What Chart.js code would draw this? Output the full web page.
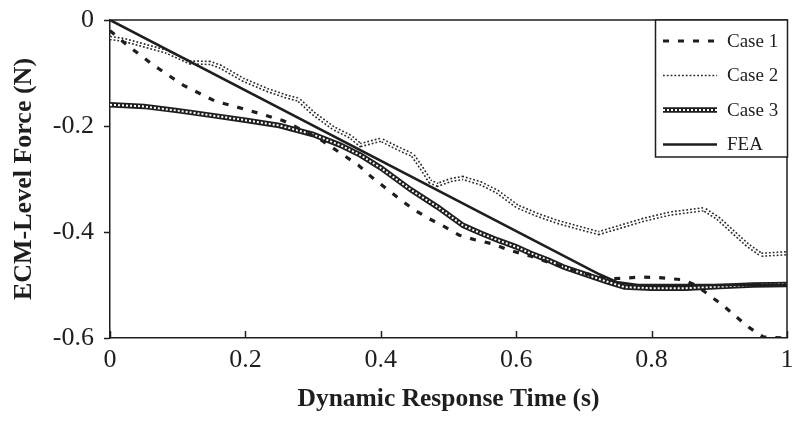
<!DOCTYPE html>
<html>
<head>
<meta charset="utf-8">
<script src="https://cdn.jsdelivr.net/npm/chart.js@4.4.1/dist/chart.umd.min.js"></script>
<style>
  html, body { margin: 0; padding: 0; background: #fff; }
  #wrap { width: 800px; height: 424px; }
</style>
</head>
<body>
<div id="wrap"><canvas id="forceChart" width="800" height="424"></canvas></div>
<script>
  // ── DATA ─────────────────────────────────────────────────
  const seriesNames = ['Case 1', 'Case 2', 'Case 3', 'FEA'];

  const case1 = [
    [0, -0.02], [0.025, -0.047], [0.064, -0.085], [0.108, -0.123], [0.155, -0.153],
    [0.204, -0.17], [0.256, -0.19], [0.278, -0.204], [0.31, -0.225], [0.345, -0.255],
    [0.367, -0.274], [0.386, -0.296], [0.407, -0.317], [0.426, -0.336], [0.448, -0.357],
    [0.47, -0.374], [0.494, -0.39], [0.516, -0.406], [0.54, -0.415], [0.567, -0.423],
    [0.589, -0.434], [0.62, -0.445], [0.65, -0.458], [0.7, -0.478], [0.74, -0.488],
    [0.76, -0.487], [0.785, -0.485], [0.81, -0.486], [0.845, -0.49], [0.865, -0.5],
    [0.885, -0.519], [0.905, -0.538], [0.925, -0.56], [0.945, -0.581], [0.965, -0.598],
    [1, -0.6]
  ];

  const case2 = [
    [0, -0.034], [0.022, -0.038], [0.084, -0.06], [0.118, -0.08], [0.148, -0.081],
    [0.163, -0.088], [0.197, -0.113], [0.232, -0.132], [0.262, -0.145], [0.278, -0.15],
    [0.3, -0.176], [0.33, -0.204], [0.355, -0.22], [0.37, -0.236], [0.4, -0.226],
    [0.425, -0.242], [0.447, -0.255], [0.459, -0.277], [0.473, -0.305], [0.484, -0.311],
    [0.503, -0.302], [0.521, -0.298], [0.547, -0.308], [0.572, -0.324], [0.602, -0.352],
    [0.632, -0.368], [0.661, -0.381], [0.695, -0.393], [0.722, -0.402], [0.754, -0.39],
    [0.788, -0.377], [0.828, -0.365], [0.877, -0.357], [0.898, -0.374], [0.922, -0.402],
    [0.942, -0.425], [0.962, -0.443], [1, -0.44]
  ];

  const case3 = [
    [0, -0.16], [0.05, -0.163], [0.1, -0.171], [0.15, -0.18], [0.2, -0.189],
    [0.25, -0.199], [0.3, -0.216], [0.34, -0.236], [0.37, -0.255], [0.4, -0.279],
    [0.444, -0.32], [0.484, -0.353], [0.522, -0.388], [0.547, -0.402], [0.572, -0.415],
    [0.6, -0.428], [0.621, -0.44], [0.647, -0.453], [0.67, -0.466], [0.7, -0.479],
    [0.735, -0.494], [0.76, -0.504], [0.8, -0.506], [0.85, -0.506], [0.9, -0.503],
    [0.95, -0.5], [1, -0.499]
  ];

  const fea = [
    [0, 0], [0.72, -0.478], [0.75, -0.495], [0.78, -0.5], [1, -0.5]
  ];

  const xTicks = [0, 0.2, 0.4, 0.6, 0.8, 1];
  const yTicks = [-0.6, -0.4, -0.2, 0];

  const xTitle = 'Dynamic Response Time (s)';
  const yTitle = 'ECM-Level Force (N)';

  // ── HELPERS ──────────────────────────────────────────────
  const INK = '#1e1e1e';
  const SERIF = '"Liberation Serif", "Times New Roman", serif';
  const toPts = arr => arr.map(p => ({ x: p[0], y: p[1] }));
  const fmt = v => String(Number(Number(v).toFixed(1)));

  // legend box + inside x ticks + top/right frame
  const framePlugin = {
    id: 'frame',
    afterDraw(chart) {
      const { ctx, chartArea: a, scales } = chart;
      ctx.save();
      ctx.strokeStyle = INK;
      ctx.lineWidth = 1.5;
      ctx.beginPath();
      ctx.moveTo(a.left, a.top);
      ctx.lineTo(a.right, a.top);
      ctx.lineTo(a.right, a.bottom);
      ctx.stroke();

      // x ticks pointing into the plot
      xTicks.forEach(v => {
        const px = Math.round(scales.x.getPixelForValue(v)) + 0.5;
        ctx.beginPath();
        ctx.moveTo(px, a.bottom);
        ctx.lineTo(px, a.bottom - 7);
        ctx.stroke();
      });

      // legend
      const boxL = 655, boxT = a.top, boxR = a.right, boxB = 157;
      ctx.fillStyle = '#fff';
      ctx.fillRect(boxL, boxT, boxR - boxL, boxB - boxT);
      ctx.strokeRect(boxL + 0.5, boxT, boxR - boxL, boxB - boxT);

      const rows = chart.data.datasets.filter(d => !d.isOverlay);
      rows.forEach((d, i) => {
        const y = boxT + 21 + i * 34.5;
        const x0 = 663, x1 = 717;
        const drawSample = (ds, w) => {
          ctx.save();
          ctx.strokeStyle = ds.borderColor;
          ctx.lineWidth = w || ds.borderWidth;
          ctx.setLineDash(ds.borderDash || []);
          ctx.beginPath();
          ctx.moveTo(x0, y);
          ctx.lineTo(x1, y);
          ctx.stroke();
          ctx.restore();
        };
        drawSample(d, d.legendWidth);
        const ov = chart.data.datasets.find(o => o.isOverlay && o.overlayOf === d.label && o.inLegend);
        if (ov) drawSample(ov);
        ctx.fillStyle = INK;
        ctx.font = '19px ' + SERIF;
        ctx.textBaseline = 'middle';
        ctx.textAlign = 'left';
        ctx.fillText(d.label, 727, y + 1);
      });
      ctx.restore();
    }
  };

  // ── CHART ────────────────────────────────────────────────
  // lower "order" is painted on top
  const ctx = document.getElementById('forceChart').getContext('2d');
  new Chart(ctx, {
    type: 'line',
    data: {
      datasets: [
        {
          label: seriesNames[0], data: toPts(case1), order: 1,
          borderColor: INK, borderWidth: 3.2, borderDash: [6, 9]
        },
        {
          label: seriesNames[1], data: toPts(case2), order: 9, legendWidth: 1.6,
          borderColor: '#2a2a2a', borderWidth: 4.6, borderDash: [1.8, 2]
        },
        {
          label: 'Case 2 gap', data: toPts(case2), order: 8,
          isOverlay: true, overlayOf: seriesNames[1], inLegend: false,
          borderColor: '#fff', borderWidth: 1.4
        },
        {
          label: seriesNames[2], data: toPts(case3), order: 7,
          borderColor: INK, borderWidth: 5.5
        },
        {
          label: 'Case 3 holes', data: toPts(case3), order: 6,
          isOverlay: true, overlayOf: seriesNames[2], inLegend: true,
          borderColor: '#fff', borderWidth: 2, borderDash: [2, 2]
        },
        {
          label: seriesNames[3], data: toPts(fea), order: 5,
          borderColor: INK, borderWidth: 2.6
        }
      ]
    },
    options: {
      responsive: false,
      animation: false,
      devicePixelRatio: 1,
      layout: { padding: { left: 0, top: 20, right: 13, bottom: 0 } },
      elements: {
        point: { radius: 0, hoverRadius: 0 },
        line: { tension: 0, fill: false }
      },
      plugins: {
        legend: { display: false },
        tooltip: { enabled: false }
      },
      scales: {
        x: {
          type: 'linear', min: 0, max: 1,
          afterBuildTicks: s => { s.ticks = xTicks.map(v => ({ value: v })); },
          afterFit: s => { s.height = 86; s.paddingLeft = 0; s.paddingRight = 0; },
          ticks: { callback: fmt, color: INK, padding: 7, maxRotation: 0,
                   font: { family: SERIF, size: 26 } },
          grid: { drawOnChartArea: false, drawTicks: false },
          border: { color: INK, width: 1.5 },
          title: { display: true, text: xTitle, color: INK,
                   font: { family: SERIF, size: 25.5, weight: 'bold' },
                   padding: { top: 0, bottom: 9 } }
        },
        y: {
          type: 'linear', min: -0.6, max: 0,
          afterBuildTicks: s => { s.ticks = yTicks.map(v => ({ value: v })); },
          afterFit: s => { s.width = 110; s.paddingTop = 0; s.paddingBottom = 0; },
          ticks: { callback: fmt, color: INK, padding: 10,
                   font: { family: SERIF, size: 26 } },
          grid: { drawOnChartArea: false, drawTicks: true, tickLength: 6,
                  tickColor: INK, tickWidth: 1.5 },
          border: { color: INK, width: 1.5 },
          title: { display: true, text: yTitle, color: INK,
                   font: { family: SERIF, size: 26, weight: 'bold' },
                   padding: { top: 9, bottom: 0 } }
        }
      }
    },
    plugins: [framePlugin]
  });
</script>
</body>
</html>
